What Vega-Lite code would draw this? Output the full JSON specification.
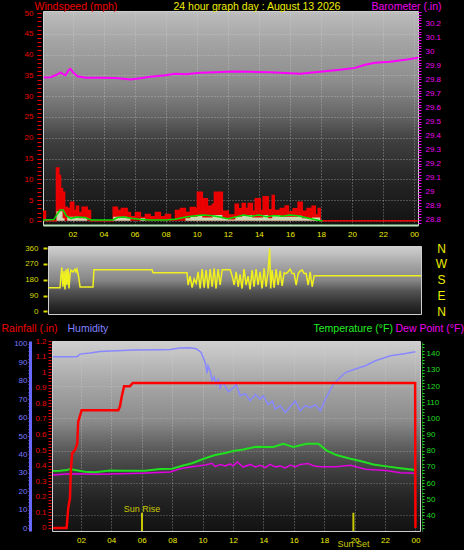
{
"$schema": "https://vega.github.io/schema/vega-lite/v6.json",
"background": "black",
"padding": {"left": 0, "top": 0, "right": 0, "bottom": 0},
"config": {
  "font": "Liberation Sans",
  "view": {"stroke": null},
  "axis": {"labelFont": "Liberation Sans", "labelFontSize": 8, "titleFont": "Liberation Sans", "titleFontSize": 10.5, "titleFontWeight": "normal", "labelOverlap": false, "labelFlush": false, "grid": false, "tickWidth": 1}
},
"datasets": {
  "gust": [{"h":0.1,"v":2.3},{"h":0.26,"v":0},{"h":0.97,"v":12.7},{"h":1.12,"v":10.9},{"h":1.23,"v":7.8},{"h":1.36,"v":6.9},{"h":1.49,"v":3.3},{"h":1.66,"v":3.0},{"h":1.87,"v":4.5},{"h":2.08,"v":2.5},{"h":2.26,"v":3.5},{"h":2.39,"v":2.0},{"h":2.62,"v":3.3},{"h":2.95,"v":1.5},{"h":3.03,"v":2.5},{"h":3.16,"v":0},{"h":4.62,"v":3.3},{"h":4.89,"v":2.5},{"h":5.15,"v":3.0},{"h":5.52,"v":2.0},{"h":5.73,"v":1.0},{"h":6.05,"v":2.0},{"h":6.37,"v":0.8},{"h":6.69,"v":1.5},{"h":7.0,"v":1.0},{"h":7.34,"v":2.0},{"h":7.66,"v":1.0},{"h":7.98,"v":1.5},{"h":8.31,"v":0.3},{"h":8.63,"v":2.5},{"h":8.95,"v":3.0},{"h":9.27,"v":2.0},{"h":9.59,"v":3.2},{"h":9.91,"v":2.9},{"h":10.04,"v":6.9},{"h":10.36,"v":2.8},{"h":10.43,"v":5.3},{"h":10.69,"v":3.5},{"h":11.01,"v":4.0},{"h":11.14,"v":6.9},{"h":11.65,"v":2.3},{"h":12.03,"v":1.4},{"h":12.48,"v":4.0},{"h":12.68,"v":2.9},{"h":12.93,"v":4.2},{"h":13.12,"v":3.0},{"h":13.32,"v":4.2},{"h":13.58,"v":2.3},{"h":13.77,"v":5.3},{"h":14.09,"v":2.5},{"h":14.28,"v":5.8},{"h":14.6,"v":2.7},{"h":14.86,"v":6.1},{"h":14.99,"v":2.5},{"h":15.38,"v":3.0},{"h":15.7,"v":3.6},{"h":15.9,"v":2.2},{"h":16.21,"v":2.9},{"h":16.53,"v":4.5},{"h":16.79,"v":2.3},{"h":17.11,"v":3.0},{"h":17.43,"v":3.5},{"h":17.63,"v":1.4},{"h":17.82,"v":3.0},{"h":17.95,"v":0},{"h":24.25,"v":0}],
  "speed": [{"h":0.1,"v":0},{"h":0.97,"v":2.3},{"h":1.36,"v":0.6},{"h":1.49,"v":0},{"h":1.66,"v":1.0},{"h":2.39,"v":0.6},{"h":2.95,"v":0},{"h":4.62,"v":1.0},{"h":5.52,"v":0.6},{"h":5.73,"v":0},{"h":6.37,"v":0.6},{"h":6.69,"v":0},{"h":9.27,"v":0.6},{"h":9.59,"v":1.0},{"h":10.04,"v":1.4},{"h":10.36,"v":0.8},{"h":11.01,"v":1.4},{"h":11.65,"v":0.6},{"h":12.03,"v":0.3},{"h":12.48,"v":1.0},{"h":12.93,"v":1.4},{"h":13.58,"v":0.8},{"h":14.28,"v":1.4},{"h":14.6,"v":0.6},{"h":14.86,"v":1.4},{"h":15.38,"v":1.0},{"h":16.53,"v":1.2},{"h":16.79,"v":0.6},{"h":17.43,"v":0.8},{"h":17.95,"v":0},{"h":24.25,"v":0}],
  "avg": [{"h":0.1,"v":0.2},{"h":0.8,"v":0.3},{"h":1.0,"v":1.5},{"h":1.2,"v":2.6},{"h":1.4,"v":2.6},{"h":1.6,"v":1.2},{"h":1.9,"v":0.6},{"h":2.3,"v":0.9},{"h":2.8,"v":0.8},{"h":3.2,"v":0.2},{"h":4.6,"v":0.2},{"h":4.9,"v":0.8},{"h":5.3,"v":0.9},{"h":5.8,"v":0.6},{"h":6.3,"v":0.4},{"h":7.0,"v":0.2},{"h":8.0,"v":0.2},{"h":8.6,"v":0.4},{"h":9.3,"v":0.9},{"h":9.9,"v":1.2},{"h":10.4,"v":1.4},{"h":11.0,"v":1.2},{"h":11.5,"v":0.9},{"h":12.0,"v":0.5},{"h":12.5,"v":0.9},{"h":13.0,"v":1.4},{"h":13.5,"v":1.1},{"h":14.0,"v":1.4},{"h":14.5,"v":1.0},{"h":15.0,"v":1.3},{"h":15.5,"v":1.1},{"h":16.0,"v":1.4},{"h":16.5,"v":1.2},{"h":17.0,"v":0.8},{"h":17.5,"v":0.4},{"h":17.9,"v":0.1},{"h":18.1,"v":0}],
  "baro": [{"h":0.14,"p":29.813},{"h":0.59,"p":29.815},{"h":0.97,"p":29.833},{"h":1.23,"p":29.85},{"h":1.42,"p":29.836},{"h":1.55,"p":29.829},{"h":1.74,"p":29.865},{"h":1.87,"p":29.875},{"h":2.06,"p":29.847},{"h":2.32,"p":29.822},{"h":2.84,"p":29.811},{"h":3.8,"p":29.811},{"h":4.77,"p":29.809},{"h":5.73,"p":29.8},{"h":6.37,"p":29.808},{"h":7.0,"p":29.818},{"h":7.98,"p":29.829},{"h":8.62,"p":29.84},{"h":9.27,"p":29.836},{"h":10.23,"p":29.847},{"h":11.2,"p":29.85},{"h":12.35,"p":29.856},{"h":13.45,"p":29.854},{"h":14.73,"p":29.85},{"h":16.02,"p":29.843},{"h":16.67,"p":29.84},{"h":17.3,"p":29.847},{"h":18.26,"p":29.858},{"h":19.23,"p":29.868},{"h":20.2,"p":29.882},{"h":20.84,"p":29.904},{"h":21.48,"p":29.918},{"h":22.45,"p":29.925},{"h":23.41,"p":29.939},{"h":24.25,"p":29.954}],
  "dir": [{"h":0.13,"d":134},{"h":0.55,"d":134},{"h":0.88,"d":134},{"h":0.94,"d":200},{"h":1.0,"d":250},{"h":1.07,"d":140},{"h":1.14,"d":230},{"h":1.2,"d":125},{"h":1.27,"d":240},{"h":1.33,"d":150},{"h":1.4,"d":245},{"h":1.46,"d":130},{"h":1.53,"d":210},{"h":1.59,"d":235},{"h":1.72,"d":225},{"h":1.85,"d":240},{"h":1.92,"d":225},{"h":1.98,"d":240},{"h":2.08,"d":200},{"h":2.18,"d":139},{"h":3.02,"d":139},{"h":3.08,"d":237},{"h":6.85,"d":237},{"h":6.92,"d":220},{"h":9.12,"d":220},{"h":9.19,"d":150},{"h":9.32,"d":200},{"h":9.45,"d":135},{"h":9.58,"d":185},{"h":9.71,"d":160},{"h":9.84,"d":225},{"h":9.97,"d":130},{"h":10.1,"d":240},{"h":10.23,"d":135},{"h":10.36,"d":235},{"h":10.49,"d":130},{"h":10.62,"d":240},{"h":10.75,"d":140},{"h":10.88,"d":245},{"h":11.0,"d":130},{"h":11.14,"d":240},{"h":11.27,"d":150},{"h":11.4,"d":237},{"h":11.92,"d":237},{"h":12.05,"d":200},{"h":12.18,"d":150},{"h":12.31,"d":225},{"h":12.44,"d":140},{"h":12.56,"d":210},{"h":12.69,"d":130},{"h":12.82,"d":240},{"h":12.95,"d":150},{"h":13.08,"d":200},{"h":13.21,"d":125},{"h":13.34,"d":235},{"h":13.47,"d":140},{"h":13.6,"d":240},{"h":13.73,"d":150},{"h":13.86,"d":225},{"h":13.99,"d":130},{"h":14.12,"d":245},{"h":14.25,"d":140},{"h":14.38,"d":230},{"h":14.48,"d":357},{"h":14.55,"d":130},{"h":14.64,"d":235},{"h":14.77,"d":135},{"h":14.9,"d":240},{"h":15.03,"d":150},{"h":15.16,"d":230},{"h":15.29,"d":145},{"h":15.42,"d":220},{"h":15.55,"d":215},{"h":15.68,"d":225},{"h":15.81,"d":240},{"h":15.94,"d":215},{"h":16.07,"d":215},{"h":16.2,"d":150},{"h":16.33,"d":215},{"h":16.46,"d":230},{"h":16.59,"d":235},{"h":16.72,"d":215},{"h":16.85,"d":215},{"h":16.98,"d":150},{"h":17.11,"d":225},{"h":17.24,"d":140},{"h":17.37,"d":203},{"h":24.3,"d":203}],
  "rain": [{"h":0.16,"r":0},{"h":1.06,"r":0},{"h":1.17,"r":0.13},{"h":1.28,"r":0.19},{"h":1.34,"r":0.37},{"h":1.43,"r":0.48},{"h":1.61,"r":0.5},{"h":1.76,"r":0.54},{"h":1.82,"r":0.68},{"h":2.05,"r":0.756},{"h":4.46,"r":0.756},{"h":4.57,"r":0.78},{"h":4.68,"r":0.84},{"h":4.84,"r":0.91},{"h":5.23,"r":0.91},{"h":5.41,"r":0.93},{"h":23.98,"r":0.93},{"h":24.0,"r":0}],
  "hum": [{"h":0.16,"u":93},{"h":0.95,"u":93},{"h":1.74,"u":93},{"h":1.94,"u":94.4},{"h":2.6,"u":95},{"h":3.25,"u":95.8},{"h":5.43,"u":96.6},{"h":7.2,"u":96.8},{"h":7.87,"u":96.9},{"h":8.52,"u":97.7},{"h":9.18,"u":97.8},{"h":9.58,"u":97.3},{"h":9.91,"u":95.3},{"h":10.17,"u":89.9},{"h":10.3,"u":84},{"h":10.36,"u":88},{"h":10.5,"u":85.3},{"h":10.63,"u":80},{"h":10.76,"u":82},{"h":10.9,"u":78},{"h":11.03,"u":80.5},{"h":11.16,"u":76},{"h":11.29,"u":79},{"h":11.49,"u":77.2},{"h":11.69,"u":74},{"h":11.95,"u":75.5},{"h":12.21,"u":78},{"h":12.48,"u":71.8},{"h":12.81,"u":73},{"h":13.13,"u":69.1},{"h":13.47,"u":72.5},{"h":13.79,"u":70},{"h":13.99,"u":71.8},{"h":14.32,"u":67},{"h":14.59,"u":69},{"h":14.78,"u":64.6},{"h":15.11,"u":66.5},{"h":15.44,"u":62.7},{"h":15.77,"u":66},{"h":16.1,"u":69},{"h":16.42,"u":63.6},{"h":16.76,"u":66.5},{"h":17.09,"u":65.4},{"h":17.42,"u":67},{"h":17.75,"u":63.6},{"h":18.08,"u":70},{"h":18.6,"u":78.1},{"h":19.39,"u":84.4},{"h":20.05,"u":86.3},{"h":20.71,"u":88.1},{"h":21.37,"u":90.8},{"h":22.36,"u":93.5},{"h":23.35,"u":94.7},{"h":24.0,"u":95.7}],
  "temp": [{"h":0.16,"t":67.4},{"h":0.62,"t":67.6},{"h":1.08,"t":68.0},{"h":1.28,"t":68.7},{"h":1.61,"t":68.0},{"h":2.27,"t":67.0},{"h":2.92,"t":66.6},{"h":3.91,"t":67.8},{"h":4.9,"t":67.6},{"h":6.22,"t":67.6},{"h":7.2,"t":68.7},{"h":8.0,"t":68.9},{"h":8.66,"t":70.7},{"h":9.31,"t":72.2},{"h":10.17,"t":75.3},{"h":10.83,"t":77.3},{"h":11.49,"t":78.6},{"h":12.02,"t":79.8},{"h":12.67,"t":80.8},{"h":13.53,"t":82.5},{"h":14.65,"t":82.3},{"h":15.31,"t":84.3},{"h":15.97,"t":82.3},{"h":16.82,"t":84.3},{"h":17.62,"t":84.3},{"h":18.14,"t":80.2},{"h":18.8,"t":77.3},{"h":19.72,"t":75.0},{"h":20.38,"t":73.6},{"h":21.24,"t":71.5},{"h":22.1,"t":70.3},{"h":23.02,"t":69.1},{"h":24.0,"t":68.0}],
  "dew": [{"h":0.16,"t":64.9},{"h":1.28,"t":65.7},{"h":3.25,"t":65.4},{"h":5.89,"t":66.0},{"h":7.87,"t":66.8},{"h":8.52,"t":68.8},{"h":9.31,"t":70.1},{"h":10.17,"t":71.1},{"h":10.63,"t":72.2},{"h":10.83,"t":70.1},{"h":11.16,"t":71.5},{"h":11.49,"t":70.5},{"h":11.82,"t":71.8},{"h":12.02,"t":70.5},{"h":12.28,"t":73.2},{"h":12.67,"t":69.9},{"h":13.13,"t":71.5},{"h":13.47,"t":70.0},{"h":13.79,"t":71.0},{"h":14.12,"t":69.5},{"h":14.45,"t":71.5},{"h":14.78,"t":70.0},{"h":15.11,"t":70.5},{"h":15.44,"t":69.3},{"h":15.77,"t":71.1},{"h":16.1,"t":70.0},{"h":16.42,"t":71.5},{"h":16.94,"t":72.0},{"h":17.34,"t":70.5},{"h":17.75,"t":70.1},{"h":18.74,"t":70.1},{"h":19.72,"t":71.0},{"h":20.71,"t":68.5},{"h":22.03,"t":67.8},{"h":23.02,"t":66.4},{"h":24.0,"t":66.0}],
  "sun": [{"event":"Sun Rise","h":6.02},{"event":"Sun Set","h":19.92}]
},
"spacing": 2,
"vconcat": [
  {
    "width": 375, "height": 214,
    "view": {"stroke": "#cfcfcf", "fill": {"gradient": "linear", "x1": 0, "y1": 0, "x2": 0, "y2": 1, "stops": [{"offset": 0, "color": "#bcbcbc"}, {"offset": 0.14, "color": "#a4a4a4"}, {"offset": 0.33, "color": "#8c8c8c"}, {"offset": 0.47, "color": "#6a6a6a"}, {"offset": 0.6, "color": "#404040"}, {"offset": 0.79, "color": "#252525"}, {"offset": 1, "color": "#121212"}]}},
    "encoding": {"x": {"field": "h", "type": "quantitative", "scale": {"domain": [0.1, 24.25], "nice": false, "zero": false},
      "axis": {"values": [2,4,6,8,10,12,14,16,18,20,22,24], "labelExpr": "datum.value == 24 ? '00' : (datum.value < 10 ? '0' + datum.value : '' + datum.value)", "labelColor": "#eeee00", "ticks": false, "grid": true, "gridColor": "#d8d8d8", "gridDash": [1, 2], "gridOpacity": 0.55, "domainColor": "#b8e8b8", "domainWidth": 2, "labelPadding": 5, "title": null}}},
    "resolve": {"scale": {"y": "independent"}, "axis": {"y": "independent"}},
    "layer": [
      {"data": {"name": "gust"}, "mark": {"type": "area", "interpolate": "step-after", "color": "#e80000", "opacity": 1, "line": {"color": "#ee0000", "strokeWidth": 1.5}, "clip": true},
       "encoding": {"y": {"field": "v", "type": "quantitative", "scale": {"domain": [-1, 50.5], "nice": false, "zero": false},
         "axis": {"orient": "left", "offset": 2, "values": [0,5,10,15,20,25,30,35,40,45,50], "labelColor": "#ee0000", "tickColor": "#ee0000", "tickSize": 4, "labelPadding": 4, "domain": false, "grid": true, "gridColor": "#d8d8d8", "gridDash": [1, 2], "gridOpacity": 0.55, "title": "Windspeed (mph)", "titleColor": "#ee0000", "titleAngle": 0, "titleAlign": "left", "titleBaseline": "alphabetic", "titleX": -7, "titleY": -2}}}},
      {"data": {"name": "speed"}, "mark": {"type": "area", "interpolate": "step-after", "color": "#c8f0c8", "opacity": 0.9, "clip": true},
       "encoding": {"y": {"field": "v", "type": "quantitative", "scale": {"domain": [-1, 50.5], "nice": false, "zero": false},
         "axis": {"orient": "left", "offset": 2, "values": [0,1,2,3,4,5,6,7,8,9,10,11,12,13,14,15,16,17,18,19,20,21,22,23,24,25,26,27,28,29,30,31,32,33,34,35,36,37,38,39,40,41,42,43,44,45,46,47,48,49,50], "labels": false, "tickColor": "#ee0000", "tickSize": 4, "domain": false, "grid": false, "title": null}}}},
      {"data": {"name": "avg"}, "mark": {"type": "line", "color": "#00e000", "strokeWidth": 1.5, "clip": true},
       "encoding": {"y": {"field": "v", "type": "quantitative", "scale": {"domain": [-1, 50.5], "nice": false, "zero": false},
         "axis": {"orient": "left", "labels": false, "ticks": false, "domain": false, "grid": false, "title": "24 hour graph day : August 13 2026", "titleColor": "#eeee00", "titleAngle": 0, "titleAlign": "left", "titleBaseline": "alphabetic", "titleX": 130, "titleY": -2}}}},
      {"data": {"name": "baro"}, "mark": {"type": "line", "color": "#ff00ff", "strokeWidth": 2, "clip": true},
       "encoding": {"y": {"field": "p", "type": "quantitative", "scale": {"domain": [28.763, 30.287], "nice": false, "zero": false},
         "axis": {"orient": "right", "values": [28.78,28.8,28.82,28.84,28.86,28.88,28.9,28.92,28.94,28.96,28.98,29,29.02,29.04,29.06,29.08,29.1,29.12,29.14,29.16,29.18,29.2,29.22,29.24,29.26,29.28,29.3,29.32,29.34,29.36,29.38,29.4,29.42,29.44,29.46,29.48,29.5,29.52,29.54,29.56,29.58,29.6,29.62,29.64,29.66,29.68,29.7,29.72,29.74,29.76,29.78,29.8,29.82,29.84,29.86,29.88,29.9,29.92,29.94,29.96,29.98,30,30.02,30.04,30.06,30.08,30.1,30.12,30.14,30.16,30.18,30.2,30.22,30.24,30.26,30.28], "labelExpr": "abs(datum.value*10 - round(datum.value*10)) < 0.01 ? format(datum.value, '.1~f') : ''", "labelColor": "#ee00ee", "tickColor": "#ee00ee", "tickSize": 3, "labelPadding": 4, "domain": false, "grid": false, "title": "Barometer (.in)", "titleColor": "#ee00ee", "titleAngle": 0, "titleAlign": "left", "titleBaseline": "alphabetic", "titleX": -47, "titleY": -2}}}}
    ]
  },
  {
    "spacing": 4,
    "vconcat": [
      {"hconcat": [
        {"width": 5, "height": 1, "data": {"values": []}, "mark": {"type": "point", "opacity": 0}, "view": {"fill": null, "stroke": null}},
        {
          "width": 373, "height": 68,
          "view": {"stroke": "#cfcfcf", "fill": {"gradient": "linear", "x1": 0, "y1": 0, "x2": 0, "y2": 1, "stops": [{"offset": 0, "color": "#d0d0d0"}, {"offset": 0.3, "color": "#a0a0a0"}, {"offset": 0.5, "color": "#858585"}, {"offset": 0.65, "color": "#555555"}, {"offset": 0.85, "color": "#2e2e2e"}, {"offset": 1, "color": "#161616"}]}},
          "data": {"name": "dir"},
          "encoding": {"x": {"field": "h", "type": "quantitative", "scale": {"domain": [0.1, 24.3], "nice": false, "zero": false}, "axis": {"labels": false, "ticks": false, "grid": false, "domain": false, "title": null}}},
          "resolve": {"scale": {"y": "independent"}, "axis": {"y": "independent"}},
          "layer": [
            {"mark": {"type": "line", "color": "#f0f020", "strokeWidth": 1.5, "clip": true},
             "encoding": {"y": {"field": "d", "type": "quantitative", "scale": {"domain": [-15, 372], "nice": false, "zero": false},
               "axis": {"orient": "left", "offset": 1, "values": [0, 90, 180, 270, 360], "labelColor": "#d8d800", "tickColor": "#d8d800", "tickSize": 4, "tickWidth": 2, "labelPadding": 5, "domain": false, "grid": false, "title": null}}}},
            {"mark": {"type": "line", "strokeOpacity": 0},
             "encoding": {"y": {"field": "d", "type": "quantitative", "scale": {"domain": [-15, 372], "nice": false, "zero": false},
               "axis": {"orient": "right", "values": [0, 90, 180, 270, 360], "labelExpr": "datum.value == 0 || datum.value == 360 ? 'N' : (datum.value == 90 ? 'E' : (datum.value == 180 ? 'S' : 'W'))", "labelColor": "#eeee00", "labelFontSize": 12, "labelAlign": "center", "labelPadding": 20, "ticks": false, "domain": false, "grid": false, "title": null}}}}
          ]
        }
      ], "spacing": 0, "bounds": "flush"},
      {"hconcat": [
        {"width": 9, "height": 1, "data": {"values": []}, "mark": {"type": "point", "opacity": 0}, "view": {"fill": null, "stroke": null}},
        {
          "width": 368, "height": 190,
          "view": {"stroke": "#cfcfcf", "fill": {"gradient": "linear", "x1": 0, "y1": 0, "x2": 0, "y2": 1, "stops": [{"offset": 0, "color": "#cfcfcf"}, {"offset": 0.2, "color": "#aaaaaa"}, {"offset": 0.42, "color": "#8a8a8a"}, {"offset": 0.53, "color": "#666666"}, {"offset": 0.63, "color": "#4a4a4a"}, {"offset": 0.74, "color": "#333333"}, {"offset": 0.84, "color": "#222222"}, {"offset": 1, "color": "#121212"}]}},
          "encoding": {"x": {"field": "h", "type": "quantitative", "scale": {"domain": [0.1, 24.3], "nice": false, "zero": false},
            "axis": {"values": [2,4,6,8,10,12,14,16,18,20,22,24], "labelExpr": "datum.value == 24 ? '00' : (datum.value < 10 ? '0' + datum.value : '' + datum.value)", "labelColor": "#eeee00", "ticks": false, "grid": true, "gridColor": "#d8d8d8", "gridDash": [1, 2], "gridOpacity": 0.55, "domain": false, "labelPadding": 5, "title": null}}},
          "resolve": {"scale": {"y": "independent"}, "axis": {"y": "independent"}},
          "layer": [
            {"data": {"name": "sun"}, "mark": {"type": "rule", "color": "#c8c800", "strokeWidth": 2},
             "encoding": {"y": {"datum": 30.3, "type": "quantitative", "scale": {"domain": [30.3, 147.9], "nice": false, "zero": false},
               "axis": {"orient": "left", "values": [40, 60, 80, 100, 120, 140], "labels": false, "ticks": false, "domain": false, "grid": true, "gridColor": "#d8d8d8", "gridDash": [1, 2], "gridOpacity": 0.45, "title": null}},
               "y2": {"datum": 41.6}}},
            {"data": {"name": "hum"}, "mark": {"type": "line", "color": "#8888ff", "strokeWidth": 1.5, "clip": true},
             "encoding": {"y": {"field": "u", "type": "quantitative", "scale": {"domain": [-1.5, 101.5], "nice": false, "zero": false},
               "axis": {"orient": "left", "offset": 22, "values": [0,2,4,6,8,10,12,14,16,18,20,22,24,26,28,30,32,34,36,38,40,42,44,46,48,50,52,54,56,58,60,62,64,66,68,70,72,74,76,78,80,82,84,86,88,90,92,94,96,98,100], "labelExpr": "datum.value % 10 == 0 ? '' + datum.value : ''", "labelColor": "#7878ff", "tickColor": "#6868ff", "tickSize": 2, "labelPadding": 1, "domain": true, "domainColor": "#6868ff", "domainWidth": 3, "grid": false, "title": "Humidity", "titleColor": "#8080ff", "titleAngle": 0, "titleAlign": "left", "titleBaseline": "alphabetic", "titleX": 37, "titleY": -10}}}},
            {"data": {"name": "temp"}, "mark": {"type": "line", "color": "#20e020", "strokeWidth": 2, "clip": true},
             "encoding": {"y": {"field": "t", "type": "quantitative", "scale": {"domain": [30.3, 147.9], "nice": false, "zero": false},
               "axis": {"orient": "right", "offset": 2, "values": [32,34,36,38,40,42,44,46,48,50,52,54,56,58,60,62,64,66,68,70,72,74,76,78,80,82,84,86,88,90,92,94,96,98,100,102,104,106,108,110,112,114,116,118,120,122,124,126,128,130,132,134,136,138,140,142,144,146], "labelExpr": "datum.value % 10 == 0 && datum.value >= 40 ? '' + datum.value : ''", "labelColor": "#22dd22", "tickColor": "#22dd22", "tickSize": 2, "labelPadding": 2, "domain": true, "domainColor": "#22cc22", "domainDash": [1, 1], "grid": false, "title": "Temperature (°F)", "titleColor": "#22ee22", "titleAngle": 0, "titleAlign": "left", "titleBaseline": "alphabetic", "titleX": -109, "titleY": -10}}}},
            {"data": {"name": "dew"}, "mark": {"type": "line", "color": "#e000e0", "strokeWidth": 1.5, "clip": true},
             "encoding": {"y": {"field": "t", "type": "quantitative", "scale": {"domain": [30.3, 147.9], "nice": false, "zero": false},
               "axis": {"orient": "right", "labels": false, "ticks": false, "domain": false, "grid": false, "title": "Dew Point (°F)", "titleColor": "#ee00ee", "titleAngle": 0, "titleAlign": "left", "titleBaseline": "alphabetic", "titleX": -25, "titleY": -10}}}},
            {"data": {"name": "sun"}, "transform": [{"filter": "datum.event == 'Sun Rise'"}], "mark": {"type": "text", "color": "#c8c800", "fontSize": 9, "font": "Liberation Sans"},
             "encoding": {"text": {"field": "event"}, "y": {"datum": 44.1, "type": "quantitative", "scale": {"domain": [30.3, 147.9], "nice": false, "zero": false}, "axis": null}}},
            {"data": {"name": "sun"}, "transform": [{"filter": "datum.event == 'Sun Set'"}], "mark": {"type": "text", "color": "#c8c800", "fontSize": 9, "font": "Liberation Sans"},
             "encoding": {"text": {"field": "event"}, "y": {"datum": 22.2, "type": "quantitative", "scale": {"domain": [30.3, 147.9], "nice": false, "zero": false}, "axis": null}}},
            {"data": {"name": "rain"}, "mark": {"type": "line", "color": "#ff0000", "strokeWidth": 2.5, "clip": true},
             "encoding": {"y": {"field": "r", "type": "quantitative", "scale": {"domain": [-0.02, 1.2], "nice": false, "zero": false},
               "axis": {"orient": "left", "offset": 1, "values": [0,0.02,0.04,0.06,0.08,0.1,0.12,0.14,0.16,0.18,0.2,0.22,0.24,0.26,0.28,0.3,0.32,0.34,0.36,0.38,0.4,0.42,0.44,0.46,0.48,0.5,0.52,0.54,0.56,0.58,0.6,0.62,0.64,0.66,0.68,0.7,0.72,0.74,0.76,0.78,0.8,0.82,0.84,0.86,0.88,0.9,0.92,0.94,0.96,0.98,1,1.02,1.04,1.06,1.08,1.1,1.12,1.14,1.16,1.18,1.2], "labelExpr": "abs(datum.value*10 - round(datum.value*10)) < 0.01 ? format(datum.value, '.1~f') : ''", "labelColor": "#ee0000", "tickColor": "#ee0000", "tickSize": 3, "labelPadding": 2, "domain": false, "grid": false, "title": "Rainfall (.in)", "titleColor": "#ee0000", "titleAngle": 0, "titleAlign": "left", "titleBaseline": "alphabetic", "titleX": -50, "titleY": -10}}}}
          ]
        }
      ], "spacing": 0, "bounds": "flush"}
    ]
  }
]
}
